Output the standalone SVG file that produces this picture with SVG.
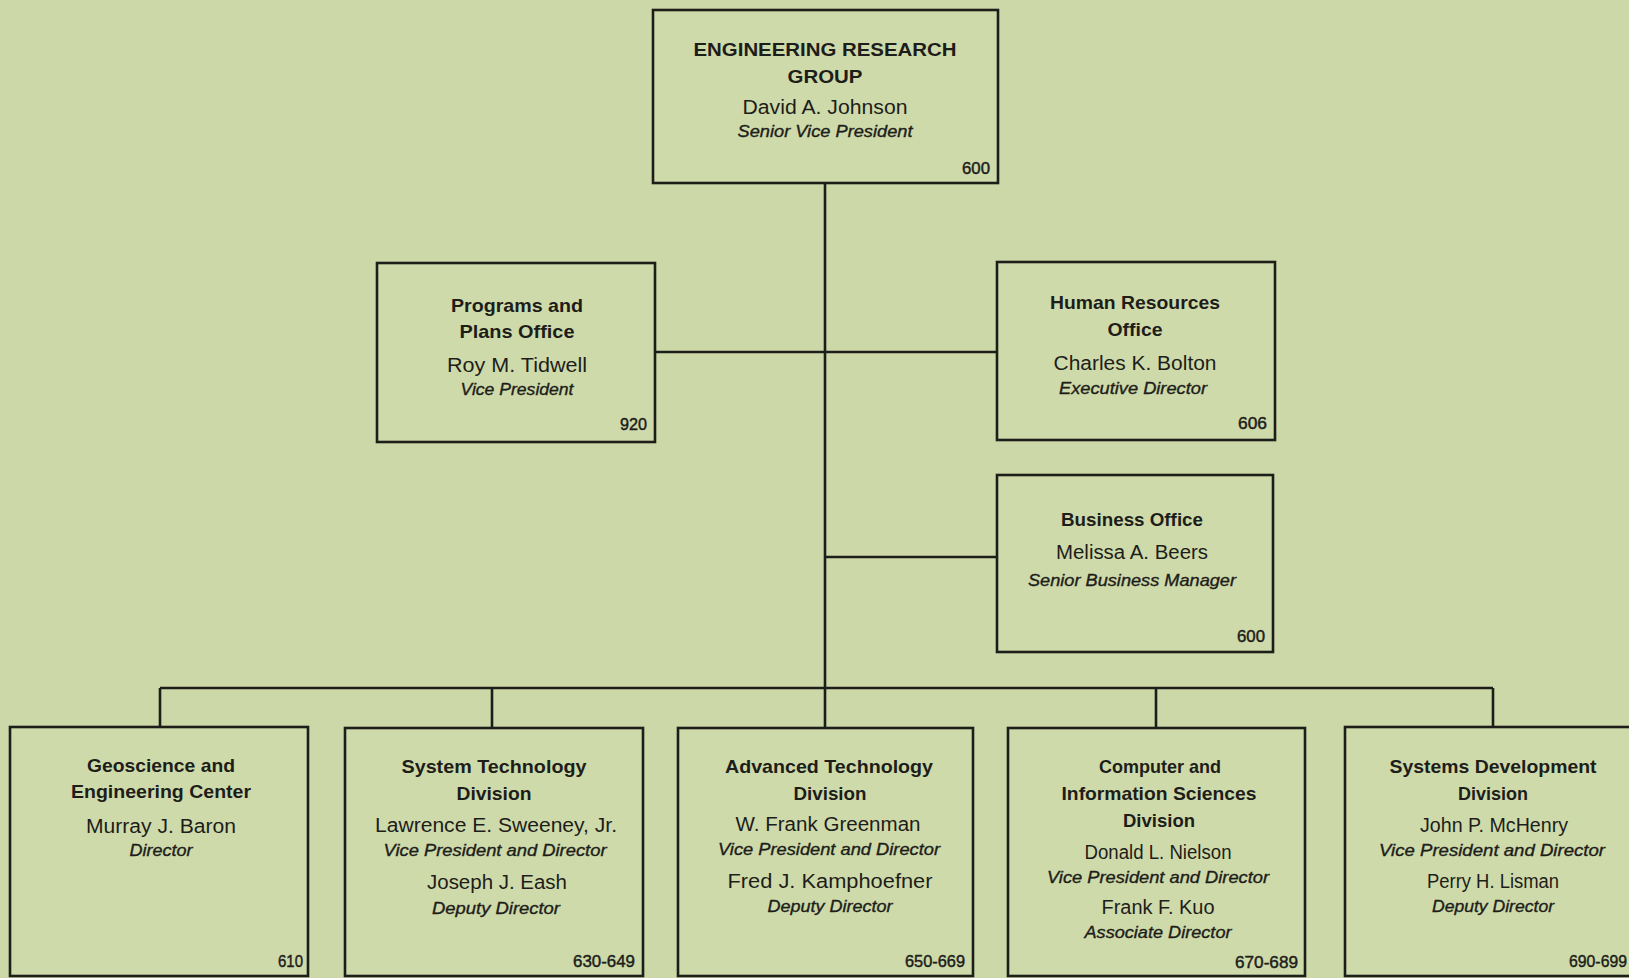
<svg xmlns="http://www.w3.org/2000/svg" width="1629" height="978" viewBox="0 0 1629 978">
<style>
.bg{fill:#cdd8a9}
.box{fill:#cfdaab;stroke:#1d1d19;stroke-width:2.6}
.con{fill:none;stroke:#1d1d19;stroke-width:2.6}
text{font-family:"Liberation Sans",Arial,sans-serif;fill:#1d1d19;text-anchor:middle}
.t{font-size:19px;font-weight:bold}
.n{font-size:20px}
.r{font-size:16.5px;font-style:italic;stroke:#1d1d19;stroke-width:0.35}
.c{font-size:17px;text-anchor:end;stroke:#1d1d19;stroke-width:0.45}
</style>
<rect class="bg" x="0" y="0" width="1629" height="978"/>
<g id="connectors">
<path class="con" d="M825 183V688M655 352H997M825 557H997M160 688H1493M160 688V727M492 688V728M825 688V728M1156 688V728M1493 688V727"/>
</g>
<g id="erg">
<rect class="box" x="653" y="10" width="345" height="173"/>
<text class="t" x="825" y="56" textLength="263" lengthAdjust="spacingAndGlyphs">ENGINEERING RESEARCH</text>
<text class="t" x="825" y="83" textLength="75" lengthAdjust="spacingAndGlyphs">GROUP</text>
<text class="n" x="825" y="114" textLength="165" lengthAdjust="spacingAndGlyphs">David A. Johnson</text>
<text class="r" x="825" y="137" textLength="175" lengthAdjust="spacingAndGlyphs">Senior Vice President</text>
<text class="c" x="990" y="174" textLength="28" lengthAdjust="spacingAndGlyphs">600</text>
</g>
<g id="programs">
<rect class="box" x="377" y="263" width="278" height="179"/>
<text class="t" x="517" y="312" textLength="132" lengthAdjust="spacingAndGlyphs">Programs and</text>
<text class="t" x="517" y="338" textLength="115" lengthAdjust="spacingAndGlyphs">Plans Office</text>
<text class="n" x="517" y="372" textLength="140" lengthAdjust="spacingAndGlyphs">Roy M. Tidwell</text>
<text class="r" x="517" y="395" textLength="113" lengthAdjust="spacingAndGlyphs">Vice President</text>
<text class="c" x="647" y="430" textLength="27" lengthAdjust="spacingAndGlyphs">920</text>
</g>
<g id="hr">
<rect class="box" x="997" y="262" width="278" height="178"/>
<text class="t" x="1135" y="309" textLength="170" lengthAdjust="spacingAndGlyphs">Human Resources</text>
<text class="t" x="1135" y="336" textLength="55" lengthAdjust="spacingAndGlyphs">Office</text>
<text class="n" x="1135" y="370" textLength="163" lengthAdjust="spacingAndGlyphs">Charles K. Bolton</text>
<text class="r" x="1133" y="394" textLength="148" lengthAdjust="spacingAndGlyphs">Executive Director</text>
<text class="c" x="1267" y="429" textLength="29" lengthAdjust="spacingAndGlyphs">606</text>
</g>
<g id="business">
<rect class="box" x="997" y="475" width="276" height="177"/>
<text class="t" x="1132" y="526" textLength="142" lengthAdjust="spacingAndGlyphs">Business Office</text>
<text class="n" x="1132" y="559" textLength="152" lengthAdjust="spacingAndGlyphs">Melissa A. Beers</text>
<text class="r" x="1132" y="586" textLength="208" lengthAdjust="spacingAndGlyphs">Senior Business Manager</text>
<text class="c" x="1265" y="642" textLength="28" lengthAdjust="spacingAndGlyphs">600</text>
</g>
<g id="geoscience">
<rect class="box" x="10" y="727" width="298" height="249"/>
<text class="t" x="161" y="772" textLength="148" lengthAdjust="spacingAndGlyphs">Geoscience and</text>
<text class="t" x="161" y="798" textLength="180" lengthAdjust="spacingAndGlyphs">Engineering Center</text>
<text class="n" x="161" y="833" textLength="150" lengthAdjust="spacingAndGlyphs">Murray J. Baron</text>
<text class="r" x="161" y="856" textLength="63" lengthAdjust="spacingAndGlyphs">Director</text>
<text class="c" x="303" y="967" textLength="25" lengthAdjust="spacingAndGlyphs">610</text>
</g>
<g id="systech">
<rect class="box" x="345" y="728" width="298" height="248"/>
<text class="t" x="494" y="773" textLength="185" lengthAdjust="spacingAndGlyphs">System Technology</text>
<text class="t" x="494" y="800" textLength="75" lengthAdjust="spacingAndGlyphs">Division</text>
<text class="n" x="496" y="832" textLength="242" lengthAdjust="spacingAndGlyphs">Lawrence E. Sweeney, Jr.</text>
<text class="r" x="495" y="856" textLength="223" lengthAdjust="spacingAndGlyphs">Vice President and Director</text>
<text class="n" x="497" y="889" textLength="140" lengthAdjust="spacingAndGlyphs">Joseph J. Eash</text>
<text class="r" x="496" y="914" textLength="128" lengthAdjust="spacingAndGlyphs">Deputy Director</text>
<text class="c" x="635" y="967" textLength="62" lengthAdjust="spacingAndGlyphs">630-649</text>
</g>
<g id="advtech">
<rect class="box" x="678" y="728" width="295" height="248"/>
<text class="t" x="829" y="773" textLength="208" lengthAdjust="spacingAndGlyphs">Advanced Technology</text>
<text class="t" x="830" y="800" textLength="73" lengthAdjust="spacingAndGlyphs">Division</text>
<text class="n" x="828" y="831" textLength="185" lengthAdjust="spacingAndGlyphs">W. Frank Greenman</text>
<text class="r" x="829" y="855" textLength="222" lengthAdjust="spacingAndGlyphs">Vice President and Director</text>
<text class="n" x="830" y="888" textLength="205" lengthAdjust="spacingAndGlyphs">Fred J. Kamphoefner</text>
<text class="r" x="830" y="912" textLength="125" lengthAdjust="spacingAndGlyphs">Deputy Director</text>
<text class="c" x="965" y="967" textLength="60" lengthAdjust="spacingAndGlyphs">650-669</text>
</g>
<g id="cis">
<rect class="box" x="1008" y="728" width="297" height="248"/>
<text class="t" x="1160" y="773" textLength="122" lengthAdjust="spacingAndGlyphs">Computer and</text>
<text class="t" x="1159" y="800" textLength="195" lengthAdjust="spacingAndGlyphs">Information Sciences</text>
<text class="t" x="1159" y="827" textLength="72" lengthAdjust="spacingAndGlyphs">Division</text>
<text class="n" x="1158" y="859" textLength="147" lengthAdjust="spacingAndGlyphs">Donald L. Nielson</text>
<text class="r" x="1158" y="883" textLength="222" lengthAdjust="spacingAndGlyphs">Vice President and Director</text>
<text class="n" x="1158" y="914" textLength="113" lengthAdjust="spacingAndGlyphs">Frank F. Kuo</text>
<text class="r" x="1158" y="938" textLength="147" lengthAdjust="spacingAndGlyphs">Associate Director</text>
<text class="c" x="1298" y="968" textLength="63" lengthAdjust="spacingAndGlyphs">670-689</text>
</g>
<g id="sysdev">
<rect class="box" x="1345" y="727" width="310" height="249"/>
<text class="t" x="1493" y="773" textLength="207" lengthAdjust="spacingAndGlyphs">Systems Development</text>
<text class="t" x="1493" y="800" textLength="70" lengthAdjust="spacingAndGlyphs">Division</text>
<text class="n" x="1494" y="832" textLength="148" lengthAdjust="spacingAndGlyphs">John P. McHenry</text>
<text class="r" x="1492" y="856" textLength="226" lengthAdjust="spacingAndGlyphs">Vice President and Director</text>
<text class="n" x="1493" y="888" textLength="132" lengthAdjust="spacingAndGlyphs">Perry H. Lisman</text>
<text class="r" x="1493" y="912" textLength="122" lengthAdjust="spacingAndGlyphs">Deputy Director</text>
<text class="c" x="1627" y="967" textLength="58" lengthAdjust="spacingAndGlyphs">690-699</text>
</g>
</svg>
